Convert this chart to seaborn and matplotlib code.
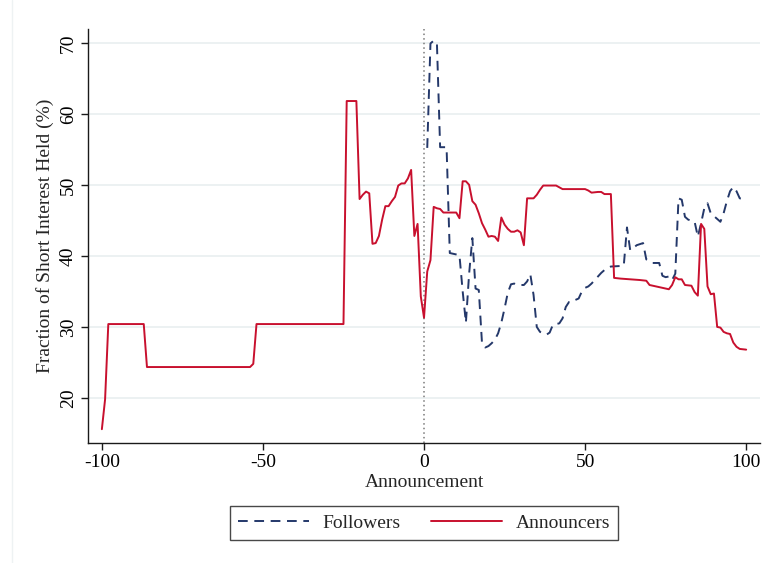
import matplotlib
matplotlib.use("Agg")
import matplotlib.pyplot as plt
import matplotlib.lines as mlines
import pandas as pd
import seaborn as sns

# Event-time window (days relative to the announcement)
announcer_days = [-100, -99, -98, -87, -86, -54, -53, -52, -25, -24, -21, -20, -19, -18,
                  -17, -16, -15, -14, -13, -12, -11, -10, -9, -8, -7, -6, -5, -4, -3, -2,
                  -1, 0, 1, 2, 3, 4, 5, 6, 10, 11, 12, 13, 14, 15, 16, 17, 18, 19, 20, 21,
                  22, 23, 24, 25, 26, 27, 28, 29, 30, 31, 32, 34, 35, 36, 37, 41, 43, 50,
                  51, 52, 54, 55, 56, 58, 59, 61, 64, 67, 69, 70, 72, 74, 76, 77, 78, 79,
                  80, 81, 83, 84, 85, 86, 87, 88, 89, 90, 91, 92, 93, 94, 95, 96, 97, 98,
                  100]
announcer_share = [15.6, 19.8, 30.4, 30.4, 24.35, 24.35, 24.8, 30.4, 30.4, 61.8, 61.8, 48.0,
                   48.6, 49.05, 48.8, 41.7, 41.8, 42.8, 45.1, 47.0, 47.0, 47.7, 48.3, 49.9,
                   50.2, 50.2, 50.9, 52.1, 42.8, 44.5, 34.3, 31.3, 37.8, 39.4, 46.9, 46.7,
                   46.6, 46.1, 46.1, 45.3, 50.5, 50.5, 50.0, 47.7, 47.2, 46.0, 44.6, 43.7,
                   42.7, 42.8, 42.7, 42.1, 45.4, 44.4, 43.8, 43.4, 43.4, 43.6, 43.3, 41.5,
                   48.1, 48.1, 48.6, 49.3, 49.9, 49.9, 49.4, 49.4, 49.2, 48.9, 49.0, 49.0,
                   48.7, 48.7, 36.9, 36.8, 36.7, 36.6, 36.5, 35.9, 35.7, 35.5, 35.3, 35.9,
                   37.0, 36.7, 36.7, 35.9, 35.8, 34.9, 34.4, 44.5, 43.8, 35.7, 34.6, 34.7,
                   30.0, 29.9, 29.3, 29.1, 29.0, 27.8, 27.2, 26.9, 26.8]

follower_days = [1, 2, 3, 4, 5, 7, 8, 11, 12, 13, 14, 15, 16, 17, 18, 19, 20, 21, 22, 23,
                 24, 25, 26, 27, 28, 29, 31, 32, 33, 34, 35, 36, 37, 38, 39, 40, 42, 43,
                 44, 45, 46, 47, 48, 49, 50, 51, 52, 53, 54, 55, 56, 57, 58, 62, 63, 64,
                 65, 66, 68, 69, 70, 71, 73, 74, 75, 76, 77, 78, 79, 80, 81, 82, 84, 85,
                 86, 87, 88, 89, 90, 91, 92, 93, 94, 95, 96, 97, 98, 99, 100]
follower_share = [55.2, 69.9, 70.3, 70.0, 55.3, 55.3, 40.4, 40.1, 35.0, 30.6, 37.5, 42.5,
                  35.4, 35.2, 27.7, 27.1, 27.3, 27.7, 28.2, 29.1, 30.6, 32.6, 34.8, 36.0,
                  36.1, 35.9, 35.9, 36.4, 37.4, 34.5, 30.0, 29.3, 29.1, 28.9, 29.2, 30.3,
                  30.5, 31.2, 32.8, 33.5, 33.5, 33.8, 34.0, 35.0, 35.5, 35.7, 36.1, 36.6,
                  37.1, 37.6, 38.0, 38.3, 38.5, 38.6, 44.0, 40.8, 41.1, 41.5, 41.8, 39.5,
                  39.3, 39.0, 39.0, 37.2, 37.0, 37.1, 36.6, 37.5, 48.1, 47.9, 45.5, 45.1,
                  44.8, 42.7, 44.6, 46.7, 47.4, 46.0, 45.6, 45.2, 44.8, 46.0, 47.7, 49.1,
                  49.7, 49.1, 48.1, 48.0, 48.0]

y_ticks = [20, 30, 40, 50, 60, 70]
x_ticks = [-100, -50, 0, 50, 100]

NAVY = "#24386a"
CRIMSON = "#c8102e"
FS = 14

sns.set_theme(style="white")
plt.rcParams["font.family"] = ["Liberation Serif", "DejaVu Serif"]

announcers = pd.DataFrame({"day": announcer_days, "share": announcer_share})
followers = pd.DataFrame({"day": follower_days, "share": follower_share})

fig = plt.figure(figsize=(7.64, 5.63), dpi=100)
ax = fig.add_axes([0.1152, 0.2137, 0.8796, 0.7343])

for y in y_ticks:
    ax.axhline(y, color="#eaf0f1", lw=1.3, zorder=0)
ax.axvline(0, color="#7a7a7a", lw=1.1, ls=(0, (1, 2.0)), zorder=1)

sns.lineplot(data=followers, x="day", y="share", ax=ax, color=NAVY, lw=1.4,
             estimator=None, sort=False, zorder=3)
ax.lines[-1].set_linestyle((0, (5, 3.4)))
sns.lineplot(data=announcers, x="day", y="share", ax=ax, color=CRIMSON, lw=1.4,
             estimator=None, sort=False, zorder=4)

ax.set_xlim(-104.3, 104.3)
ax.set_ylim(13.7, 71.9)
ax.set_xticks(x_ticks)
ax.set_xticklabels(["-100", "-50", "0", "50", "100"])
ax.set_yticks(y_ticks)
ax.set_yticklabels([str(v) for v in y_ticks], rotation=90, va="center")

for side in ("top", "right"):
    ax.spines[side].set_visible(False)
for side in ("left", "bottom"):
    ax.spines[side].set_color("#1a1a1a")
    ax.spines[side].set_linewidth(1.0)

ax.tick_params(axis="both", which="major", direction="out", length=5, width=1.0,
               color="#1a1a1a", labelsize=FS, labelcolor="black",
               left=True, bottom=True, pad=3)

ax.set_xlabel("Announcement", fontsize=FS, labelpad=2)
ax.set_ylabel("Fraction of Short Interest Held (%)", fontsize=FS, labelpad=4)

handles = [
    mlines.Line2D([], [], color=NAVY, lw=1.4, ls=(0, (5, 3.4))),
    mlines.Line2D([], [], color=CRIMSON, lw=1.4),
]
leg = fig.legend(handles, ["Followers", "Announcers"], loc="center",
                 bbox_to_anchor=(424 / 764, 1 - 523 / 563), ncol=2,
                 fontsize=FS, frameon=True, fancybox=False, handlelength=3.65,
                 handletextpad=0.7, columnspacing=1.55, borderpad=0.4,
                 borderaxespad=0)
leg.get_frame().set_edgecolor("#1a1a1a")
leg.get_frame().set_linewidth(1.0)

# faint outline of the graph region
fig.add_artist(mlines.Line2D([12 / 764, 12 / 764], [0, 1], transform=fig.transFigure,
                             color="#eef2f3", lw=1.0))

fig.savefig("out.png", dpi=100, facecolor="white")
